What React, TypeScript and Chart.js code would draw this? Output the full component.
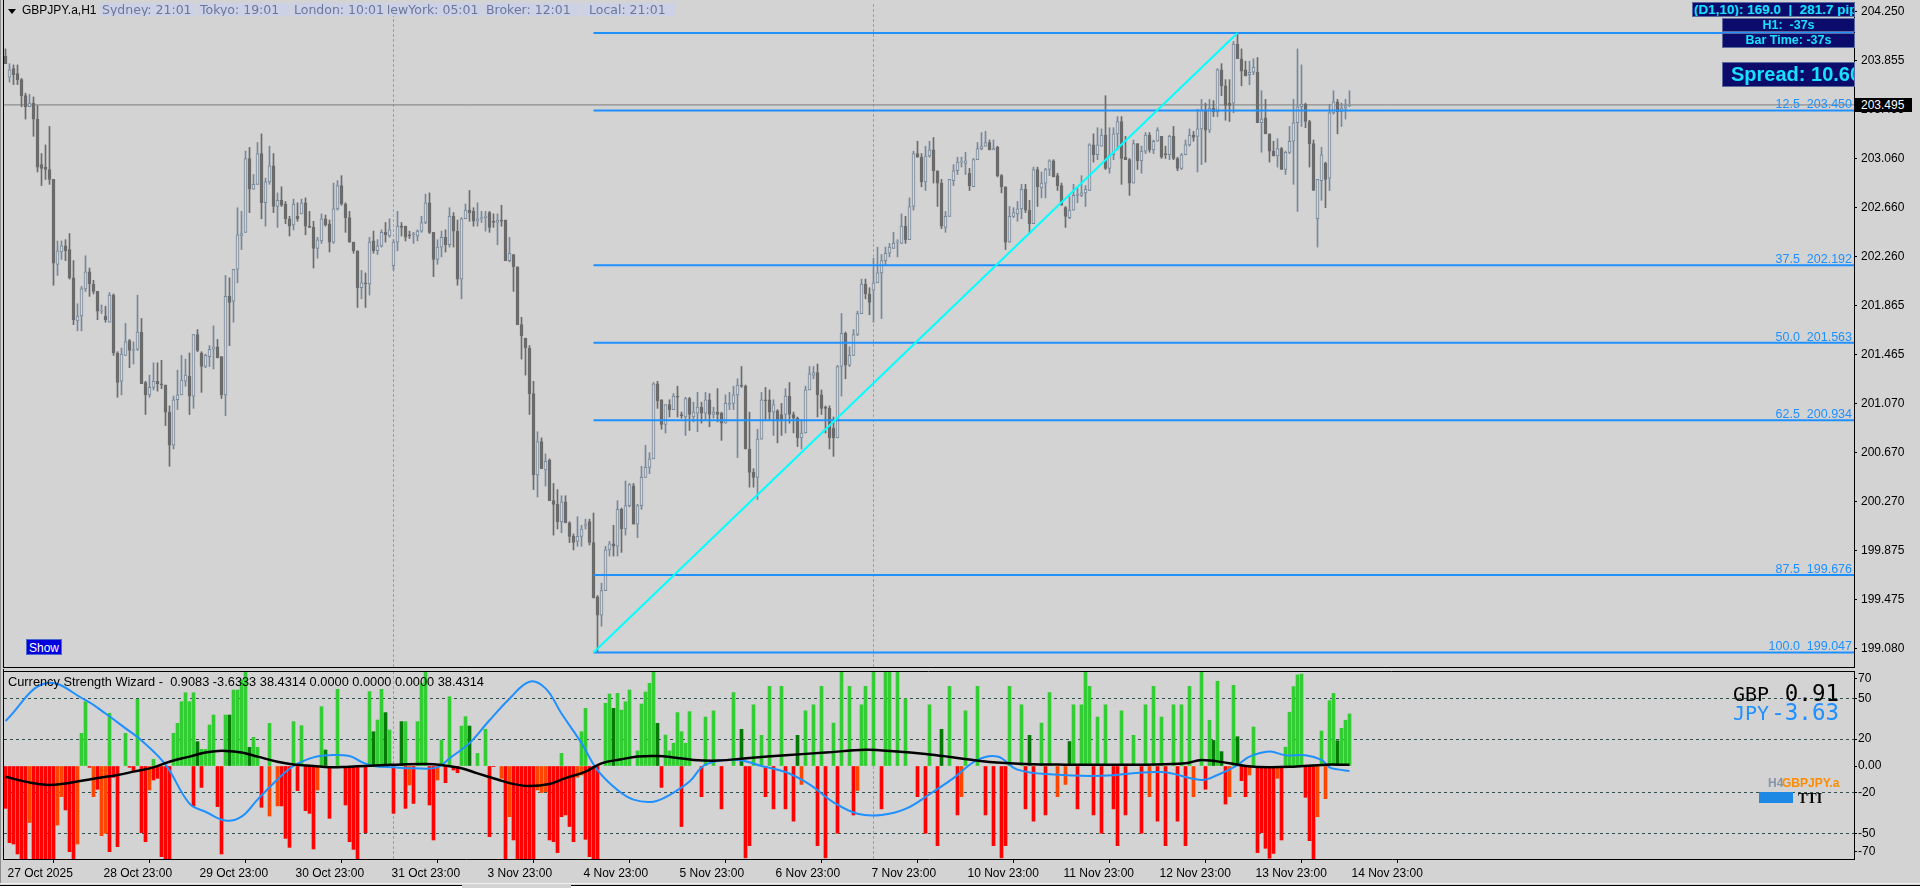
import React, { useEffect, useRef } from 'react';
import { Chart, registerables } from 'chart.js';

Chart.register(...registerables);

// ---------------- price data (H1 candles) ----------------
const opens = [
  203.89,203.72,203.79,203.75,203.70,203.57,203.48,203.51,203.38,203.01,
  202.99,202.97,202.89,202.20,202.30,202.35,202.32,202.09,201.74,201.78,
  202.00,202.14,202.04,201.98,201.82,201.78,201.73,201.95,201.48,201.25,
  201.46,201.58,201.50,201.51,201.65,201.24,201.14,201.20,201.25,201.23,
  201.22,201.00,200.73,201.10,201.14,201.25,201.29,201.13,201.63,201.48,
  201.37,201.45,201.51,201.53,201.45,201.14,201.94,201.90,202.16,202.43,
  202.46,203.06,202.81,202.85,203.10,202.70,202.87,203.00,202.67,202.72,
  202.69,202.57,202.52,202.59,202.61,202.70,202.51,202.50,202.33,202.39,
  202.57,202.53,202.38,202.65,202.84,202.69,202.58,202.38,202.31,202.01,
  202.05,202.04,202.39,202.31,202.35,202.46,202.43,202.19,202.38,202.51,
  202.51,202.44,202.44,202.43,202.47,202.54,202.70,202.46,202.24,202.34,
  202.42,202.36,202.59,202.47,202.08,202.57,202.64,202.63,202.55,202.57,
  202.58,202.62,202.55,202.54,202.56,202.56,202.23,202.28,202.18,201.71,
  201.60,201.52,201.15,200.49,200.76,200.53,200.61,200.28,200.25,200.11,
  200.27,200.10,199.99,199.95,199.99,200.08,200.11,199.94,199.50,199.35,
  199.55,199.88,199.93,199.91,200.21,200.05,200.24,200.40,200.09,200.24,
  200.47,200.55,200.62,201.23,201.10,200.90,201.06,201.02,201.13,200.98,
  200.96,201.11,200.96,200.99,201.04,200.99,201.10,200.98,201.00,200.99,
  200.91,201.06,201.07,201.14,201.22,201.21,200.70,200.51,200.47,200.78,
  201.10,201.10,201.00,201.01,200.98,200.98,201.13,200.98,200.95,200.79,
  200.83,201.18,201.30,201.32,201.14,201.04,201.03,200.87,200.79,201.37,
  201.64,201.38,201.46,201.63,201.80,202.04,201.96,201.99,202.05,202.13,
  202.23,202.29,202.33,202.38,202.37,202.51,202.40,202.67,203.10,203.07,
  202.87,203.08,203.13,202.96,202.86,202.50,202.59,202.88,202.96,203.03,
  203.02,202.94,202.83,203.05,203.14,203.16,203.19,203.13,203.15,202.92,
  202.83,202.38,202.59,202.61,202.65,202.81,202.64,202.53,202.97,202.82,
  202.86,202.97,203.04,202.92,202.84,202.66,202.58,202.64,202.76,202.76,
  202.78,202.80,203.17,203.09,203.16,203.25,202.98,203.09,203.26,203.36,
  203.07,203.05,202.86,203.18,203.04,203.12,203.25,203.13,203.20,203.24,
  203.10,203.09,203.24,203.06,202.98,203.09,203.17,203.25,203.24,203.30,
  203.45,203.29,203.47,203.44,203.78,203.65,203.51,203.51,203.99,203.87,
  203.78,203.74,203.76,203.76,203.35,203.39,203.26,203.12,203.08,203.14,
  202.97,203.11,203.20,203.35,203.48,203.50,203.36,203.18,202.57,202.88,
  203.02,202.90,203.43,203.52,203.44,203.47,203.49
];
const highs = [
  203.95,203.83,203.82,203.82,203.71,203.59,203.58,203.56,203.49,203.10,
  203.17,203.32,202.89,202.39,202.39,202.40,202.45,202.23,201.88,202.02,
  202.27,202.17,202.07,201.98,201.87,201.86,201.97,201.96,201.49,201.52,
  201.72,201.59,201.57,201.95,201.76,201.25,201.30,201.40,201.40,201.42,
  201.22,201.05,201.13,201.34,201.46,201.43,201.48,201.63,201.67,201.49,
  201.47,201.54,201.70,201.59,201.45,202.11,202.09,202.16,202.66,202.63,
  203.12,203.15,202.93,203.19,203.26,202.90,203.16,203.10,202.78,202.83,
  202.71,202.59,202.73,202.70,202.73,202.74,202.63,202.55,202.42,202.61,
  202.60,202.56,202.86,202.88,202.92,202.70,202.63,202.38,202.31,202.15,
  202.13,202.42,202.47,202.40,202.48,202.54,202.57,202.40,202.63,202.54,
  202.51,202.47,202.46,202.48,202.59,202.77,202.78,202.46,202.40,202.47,
  202.48,202.66,202.62,202.56,202.58,202.69,202.80,202.66,202.70,202.63,
  202.63,202.63,202.61,202.61,202.68,202.56,202.42,202.28,202.18,201.77,
  201.60,201.54,201.25,200.84,200.79,200.66,200.62,200.42,200.37,200.32,
  200.32,200.11,200.01,200.15,200.08,200.13,200.13,200.18,199.51,199.61,
  199.91,199.95,200.08,200.28,200.22,200.44,200.42,200.42,200.25,200.56,
  200.73,200.67,201.24,201.25,201.10,201.06,201.10,201.15,201.21,201.00,
  201.12,201.12,201.08,201.16,201.08,201.16,201.15,201.04,201.19,201.00,
  201.14,201.16,201.21,201.27,201.37,201.22,201.00,200.54,200.86,201.16,
  201.20,201.18,201.10,201.02,201.07,201.19,201.24,201.00,200.96,200.94,
  201.21,201.37,201.37,201.39,201.18,201.05,201.05,200.96,201.38,201.80,
  201.65,201.53,201.67,201.82,202.08,202.08,202.01,202.25,202.34,202.28,
  202.34,202.37,202.46,202.40,202.61,202.59,202.74,203.12,203.20,203.10,
  203.16,203.20,203.23,202.96,202.89,202.63,202.89,203.01,203.07,203.07,
  203.11,202.98,203.06,203.19,203.27,203.28,203.21,203.21,203.16,202.93,
  202.83,202.67,202.66,202.71,202.85,202.85,202.72,202.99,202.99,202.95,
  202.98,203.05,203.05,202.94,202.86,202.67,202.75,202.85,202.82,202.92,
  202.84,203.18,203.26,203.31,203.30,203.57,203.31,203.31,203.40,203.40,
  203.24,203.06,203.21,203.18,203.16,203.27,203.27,203.21,203.31,203.24,
  203.16,203.25,203.32,203.07,203.10,203.21,203.30,203.28,203.46,203.54,
  203.51,203.54,203.53,203.79,203.83,203.70,203.70,204.01,204.079,203.95,
  203.85,203.85,203.87,203.88,203.61,203.54,203.26,203.20,203.22,203.15,
  203.12,203.32,203.54,203.95,203.82,203.51,203.37,203.21,202.89,203.15,
  203.03,203.50,203.61,203.54,203.51,203.54,203.61
];
const lows = [
  203.83,203.68,203.66,203.66,203.48,203.38,203.48,203.24,202.95,202.84,
  202.89,202.85,202.03,202.11,202.24,202.23,202.08,201.71,201.66,201.66,
  201.98,201.94,201.96,201.75,201.80,201.73,201.73,201.46,201.12,201.14,
  201.46,201.36,201.39,201.50,201.23,200.98,201.12,201.18,201.17,201.19,
  200.89,200.56,200.70,201.02,201.14,201.21,200.98,201.03,201.49,201.16,
  201.36,201.37,201.35,201.44,201.11,200.97,201.54,201.73,202.05,202.32,
  202.46,202.62,202.81,202.85,202.57,202.51,202.85,202.62,202.50,202.67,
  202.53,202.43,202.48,202.55,202.61,202.44,202.50,202.17,202.25,202.37,
  202.51,202.30,202.37,202.64,202.68,202.46,202.38,202.29,201.85,201.92,
  201.85,201.95,202.29,202.28,202.34,202.38,202.42,202.15,202.31,202.43,
  202.39,202.41,202.37,202.39,202.46,202.53,202.45,202.10,202.20,202.26,
  202.30,202.34,202.34,202.03,201.92,202.57,202.55,202.51,202.51,202.54,
  202.47,202.46,202.50,202.36,202.51,202.23,202.22,201.98,201.71,201.43,
  201.30,200.98,200.37,200.31,200.54,200.40,200.28,200.00,200.05,200.02,
  200.10,199.94,199.88,199.91,199.91,200.05,199.92,199.49,199.047,199.26,
  199.55,199.83,199.83,199.83,199.86,200.00,200.23,200.09,199.98,200.21,
  200.47,200.50,200.62,201.03,200.86,200.83,200.96,201.02,200.96,200.95,
  200.81,200.85,200.92,200.84,200.91,200.93,200.88,200.95,200.92,200.77,
  200.91,201.02,201.02,200.63,201.20,200.70,200.39,200.39,200.29,200.78,
  200.94,200.94,200.81,200.75,200.81,200.83,200.91,200.83,200.72,200.70,
  200.83,201.18,201.27,200.96,200.98,200.83,200.70,200.64,200.79,201.13,
  201.27,201.37,201.46,201.62,201.80,201.92,201.79,201.73,202.05,201.76,
  202.19,202.26,202.33,202.26,202.37,202.37,202.40,202.64,203.07,202.83,
  202.80,203.07,202.86,202.67,202.49,202.46,202.59,202.84,202.93,202.99,
  202.93,202.80,202.83,203.05,203.13,203.16,203.13,203.13,202.91,202.78,
  202.32,202.38,202.58,202.55,202.57,202.62,202.45,202.53,202.67,202.74,
  202.74,202.92,202.91,202.80,202.68,202.50,202.57,202.64,202.70,202.75,
  202.67,202.80,203.03,203.05,203.16,202.97,202.94,203.05,203.13,202.85,
  203.05,202.76,202.86,202.97,202.94,203.10,203.11,203.10,203.20,203.06,
  203.06,203.05,203.05,202.96,202.97,203.09,203.16,203.20,202.95,203.01,
  203.03,203.27,203.40,203.40,203.57,203.37,203.36,203.43,203.87,203.65,
  203.73,203.66,203.74,203.35,203.11,203.26,203.03,203.08,202.99,202.97,
  202.93,203.10,202.85,202.63,203.32,203.31,202.99,202.80,202.34,202.72,
  202.66,202.80,203.42,203.26,203.32,203.38,203.48
];
const closes = [
  203.83,203.78,203.74,203.70,203.57,203.48,203.51,203.38,202.99,202.98,
  202.97,202.89,202.21,202.31,202.35,202.31,202.09,201.75,201.78,202.00,
  202.14,202.04,201.98,201.82,201.82,201.75,201.95,201.48,201.24,201.47,
  201.57,201.50,201.50,201.65,201.23,201.14,201.20,201.25,201.23,201.22,
  201.00,200.73,201.10,201.14,201.26,201.30,201.13,201.63,201.50,201.37,
  201.46,201.51,201.53,201.44,201.14,201.94,201.89,202.16,202.44,202.45,
  203.06,202.81,202.85,203.10,202.70,202.87,203.00,202.67,202.72,202.68,
  202.57,202.51,202.69,202.57,202.70,202.51,202.50,202.33,202.40,202.57,
  202.52,202.38,202.65,202.84,202.69,202.58,202.38,202.31,202.01,202.05,
  202.04,202.38,202.31,202.35,202.46,202.44,202.48,202.38,202.51,202.50,
  202.42,202.43,202.44,202.47,202.54,202.70,202.46,202.24,202.34,202.42,
  202.36,202.59,202.47,202.08,202.57,202.64,202.62,202.55,202.57,202.58,
  202.59,202.50,202.54,202.56,202.55,202.23,202.29,202.18,201.71,201.62,
  201.52,201.15,200.49,200.76,200.54,200.60,200.28,200.25,200.11,200.27,
  200.10,199.99,199.94,199.99,200.05,200.08,199.94,199.49,199.35,199.55,
  199.88,199.93,199.91,200.21,200.05,200.24,200.41,200.09,200.24,200.47,
  200.55,200.62,201.23,201.09,200.90,201.06,201.02,201.13,201.12,200.97,
  201.11,200.98,201.00,201.04,200.99,201.10,200.98,201.00,200.98,200.91,
  201.07,201.07,201.14,201.22,201.21,200.70,200.51,200.47,200.78,201.10,
  201.09,201.00,201.06,200.93,200.93,201.13,200.98,200.95,200.79,200.83,
  201.18,201.31,201.32,201.14,201.03,201.03,200.79,200.79,201.37,201.64,
  201.38,201.46,201.63,201.80,202.04,201.96,201.89,202.05,202.13,202.23,
  202.29,202.34,202.37,202.38,202.51,202.40,202.67,203.10,203.07,202.87,
  203.08,203.13,202.96,202.86,202.51,202.59,202.89,202.96,203.03,203.03,
  203.04,202.84,203.05,203.14,203.16,203.19,203.13,203.14,202.92,202.83,
  202.38,202.59,202.62,202.65,202.81,202.64,202.53,202.97,202.83,202.86,
  202.97,203.04,202.91,202.84,202.68,202.59,202.64,202.76,202.77,202.78,
  202.81,203.17,203.09,203.17,203.25,202.98,203.09,203.26,203.36,203.06,
  203.05,202.86,203.18,203.04,203.12,203.25,203.13,203.20,203.29,203.07,
  203.09,203.24,203.06,202.98,203.09,203.17,203.25,203.23,203.30,203.45,
  203.29,203.47,203.44,203.78,203.65,203.49,203.49,203.99,203.87,203.77,
  203.73,203.76,203.80,203.35,203.38,203.26,203.12,203.08,203.14,202.97,
  203.11,203.20,203.35,203.48,203.50,203.36,203.18,202.80,202.89,203.09,
  202.89,203.43,203.52,203.44,203.47,203.49,203.495
];

const timeTickBars = [0, 24, 48, 72, 96, 120, 144, 168, 192, 216, 240, 264, 288, 312, 336];
const timeTickLabels = [
  '27 Oct 2025', '28 Oct 23:00', '29 Oct 23:00', '30 Oct 23:00', '31 Oct 23:00',
  '3 Nov 23:00', '4 Nov 23:00', '5 Nov 23:00', '6 Nov 23:00', '7 Nov 23:00',
  '10 Nov 23:00', '11 Nov 23:00', '12 Nov 23:00', '13 Nov 23:00', '14 Nov 23:00'
];
const priceTicks = [199.08, 199.475, 199.875, 200.27, 200.67, 201.07, 201.465, 201.865, 202.26, 202.66, 203.06, 203.455, 203.855, 204.25];
const fibLevels = [0, 12.5, 37.5, 50, 62.5, 87.5, 100];
const fibPrices = [204.079, 203.45, 202.192, 201.563, 200.934, 199.676, 199.047];
const fibAnchorBars = [147, 308];
const bidPrice = 203.495;
const weekSeparatorBars = [97, 217];

// ---------------- Currency Strength Wizard sub-window ----------------
const strengthTickValues = [-70, -50, -20, 0, 20, 50, 70];
const strengthGridValues = [-50, -20, 20, 50];
const strengthUpBars = [
  19,20,26,30,33,37,42,43,44,45,46,47,48,49,50,51,52,55,56,57,58,59,60,61,62,63,66,72,74,79,80,83,
  91,92,93,94,95,96,99,100,103,104,105,109,111,114,115,116,118,120,139,144,145,150,151,152,153,154,155,156,
  158,159,160,161,162,163,165,166,167,168,169,170,171,175,177,182,184,187,189,191,194,198,200,202,204,207,
  209,211,214,215,217,220,221,223,225,231,234,236,240,243,251,254,256,259,261,266,267,269,270,271,273,275,
  279,282,285,287,289,292,294,296,299,301,302,303,304,307,308,312,320,321,322,323,324,329,331,332,333,334,335,336
];
const strengthUpValues = [
  24.3,47.8,39.2,24.3,49.6,5,24.3,31.7,47.8,54.5,47.8,54.5,18.1,12.4,12.4,30.5,37.9,37.9,37.9,56.5,56.5,64,70,13.9,21.3,13.9,31.7,33,30,44.1,11.9,57,
  55.3,25.5,34.2,57,39.7,26.8,33,33,33,61.5,70,19.3,51.5,29.7,36.7,29.7,9.4,27.3,9.4,25.5,42.9,46.6,53.5,42.9,54,41.6,47.8,56.5,
  11.2,46.1,55,61.5,70,31.7,23,11.2,16.9,39.7,25.5,16.9,40.4,36.4,41,54.6,27.3,45.5,22.8,59.2,59.2,22.8,41,45.5,59.2,31.9,
  70,59.2,45.5,59.2,70,70,70,70,50,45.5,27.3,59.2,41,59.2,59.2,45.5,22.8,31.9,54.6,18.2,45.5,45.5,70,59.2,36.4,45.5,
  41,22.8,45.5,59.2,36.4,45.5,45.5,59.2,70,34,19,63,10.7,60,21.8,29,14,40,59,67.7,68.4,26,48.6,54,18.8,28,34,38.7
];
const strengthUpDarkBars = [48, 56, 61, 80, 92, 95, 99, 116, 152, 163, 184, 198, 234, 256, 266, 302, 304, 308, 333];
const strengthDownBars = [
  0,1,2,3,4,5,6,7,8,9,10,11,12,13,14,15,16,17,18,21,22,23,24,25,26,27,28,31,32,34,35,36,37,38,39,40,41,
  47,49,53,54,64,66,68,69,70,71,73,75,76,77,78,81,85,86,87,88,90,97,100,101,102,106,107,108,110,112,113,
  121,122,124,125,126,127,128,129,130,131,132,133,134,135,136,137,138,139,140,141,142,143,144,145,146,147,148,
  164,169,174,179,185,186,190,192,195,197,199,203,205,208,212,213,219,228,230,233,238,239,
  245,247,249,250,255,257,260,263,265,268,272,274,277,278,280,284,286,288,290,293,295,297,
  300,305,306,309,310,311,313,314,315,316,317,318,319,325,326,327,328,330
];
const strengthDownValues = [
  -31.5,-57,-58,-65.4,-69.4,-69.4,-42,-69.4,-69.4,-69.4,-69.4,-69.4,-69.4,-43.9,-22.8,-32.7,-63.7,-69.4,-58,
  -1,-22.8,-17.3,-51.8,-50,-63.7,-8.4,-60,-1,-3.5,-49.6,-56.3,-17.8,-10.4,-9.2,-67.4,-69.4,-69.4,
  -29.7,-15.9,-30.2,-65.4,-30.7,-37.2,-29.7,-29.7,-53.8,-60.5,-18.3,-33.2,-35.2,-61.7,-17.8,-38.9,-29,-56.3,-62,-69.4,-49.6,
  -35.2,-31.5,-14.1,-27.8,-29,-55,-10.4,-12.4,-3,-5,
  -52.5,-0.5,-9.2,-69.4,-37.7,-55,-69.4,-69.4,-69.4,-69.4,-69.4,-17.8,-19.8,-19.1,-55,-56.3,-64.4,-37.7,-36.4,-45,-56.3,-8.4,-6.7,-54.5,-67.4,-69.4,-69.4,
  -15.9,-45,-22.8,-31.9,-68.3,-59.2,-22.8,-31.9,-31.9,-41,-13.7,-59.2,-68.3,-50,-36.4,-18.2,-31.9,-22.8,-50,-59.2,-36.4,-22.8,
  -36.4,-59.2,-68.3,-59.2,-31.9,-41,-36.4,-22.8,-13.7,-31.9,-36.4,-50,-31.9,-59.2,-36.4,-50,-22.8,-41,-59.2,-41,-59.2,-22.8,
  -17.3,-28.3,-22.8,-10.9,-22.8,-6.7,-64.4,-49.6,-61.2,-68.6,-65,-9.2,-55,-23.3,-55.5,-69.4,-37.7,-24.3
];
const strengthDownOrangeBars = [6, 13, 14, 18, 22, 24, 25, 36, 66, 68, 78, 101, 108, 124, 126, 133, 134, 135, 143, 144, 199, 213, 239, 263, 265, 286, 297, 306, 311, 318, 328, 330];
const gbpBars = [0, 5, 10, 14, 19, 23, 28, 32, 37, 41, 46, 50, 54, 59, 63, 68, 72, 77, 81, 86, 90, 95, 99, 105, 109, 114, 118, 123, 127, 131, 136, 140, 145, 149, 154, 158, 163, 167, 172, 178, 186, 195, 205, 215, 222, 230, 238, 246, 255, 265, 275, 285, 295, 299, 306, 310, 316, 322, 330, 336];
const gbpValues = [-8, -11.6, -14, -13.4, -11, -9, -6.7, -4.2, -1, 3.2, 7, 10, 11.4, 10, 7, 3.2, 1.2, 0, -1, -0.5, 0, 0.7, 1.2, 1.5, 0.7, -1.7, -5.5, -10, -13.4, -14.9, -13.4, -9, -4.2, 2, 5, 7, 7.4, 6.4, 4.5, 4, 6, 8, 10, 12, 11, 9, 6, 3, 1.5, 1, 1, 1, 2, 4.5, 2, 0, -1, -0.5, 1, 0.91];
const jpyBars = [0, 10, 20, 25, 30, 34, 40, 46, 50, 55, 59, 63, 68, 72, 77, 81, 86, 89, 92, 97, 102, 108, 111, 116, 121, 126, 131, 135, 139, 144, 148, 153, 157, 162, 166, 171, 175, 183, 189, 195, 201, 207, 213, 219, 225, 231, 237, 243, 248, 253, 262, 274, 289, 299, 303, 308, 311, 316, 320, 325, 329, 331, 333, 336];
const jpyValues = [33.5, 61.5, 49, 39, 28, 19, 1, -28, -34, -40.6, -37.7, -25, -10, 0, 6.4, 8, 7.4, 3, 0, -1, -1.7, -1, 5.7, 17, 34, 50, 62.7, 57.7, 39, 17, -3, -17.8, -25, -26.5, -21.6, -11.6, 1, 4.5, 0, -4.5, -13.7, -27, -35.5, -36.4, -31.9, -21, -9, 4.5, 7, -2.7, -6.4, -7.3, -4.5, -10.4, -6.7, 0.7, 7, 10.7, 8, 8, 4.5, -1, -2.5, -3.63];

// ---------------- layout constants ----------------
const X_MIN = -0.375;
const X_MAX = 462.125;
const PRICE_MIN = 198.929;
const PRICE_MAX = 204.331;
const IND_MIN = -69.14;
const IND_MAX = 70.63;
const BG = '#d3d3d3';
const BULL = '#778899';
const BEAR = '#6b6b6b';
const FIB = '#1e90ff';

const framePlugin = {
  id: 'mtFrame',
  afterDraw(chart: any, _args: any, opts: any) {
    const { ctx, chartArea: a } = chart;
    ctx.save();
    ctx.strokeStyle = '#000';
    ctx.lineWidth = 1;
    ctx.beginPath();
    if (opts.left) {
      ctx.moveTo(a.left - 0.5, 0);
      ctx.lineTo(a.left - 0.5, a.bottom + 1);
    }
    if (opts.top) {
      ctx.moveTo(a.left - 1, a.top + 0.5);
      ctx.lineTo(a.right, a.top + 0.5);
    }
    if (opts.bottom) {
      ctx.moveTo(a.left - 1, a.bottom + 0.5);
      ctx.lineTo(a.right + 1, a.bottom + 0.5);
    }
    ctx.stroke();
    ctx.restore();
  },
};

const fibLabelPlugin = {
  id: 'fibLabels',
  afterDatasetsDraw(chart: any) {
    const { ctx, chartArea: a, scales } = chart;
    ctx.save();
    ctx.font = '12.5px "Liberation Sans"';
    ctx.fillStyle = FIB;
    ctx.textAlign = 'right';
    ctx.textBaseline = 'alphabetic';
    fibLevels.forEach((lvl, k) => {
      const y = scales.y.getPixelForValue(fibPrices[k]);
      ctx.fillText(`${lvl.toFixed(1)}  ${fibPrices[k].toFixed(3)}`, a.right - 2, y - 2);
    });
    ctx.restore();
  },
};

const noPadY = (s: any) => {
  s.width = 66;
  s.paddingTop = 0;
  s.paddingBottom = 0;
};

function mainConfig(): any {
  const idx = opens.map((_, i) => i);
  const bull = idx.map((i) => closes[i] >= opens[i]);
  const fibSets = fibPrices.map((p) => ({
    type: 'line',
    data: [{ x: fibAnchorBars[0], y: p }, { x: X_MAX, y: p }],
    borderColor: FIB,
    borderWidth: 2,
    pointRadius: 0,
    order: 1,
  }));
  const sepSets = weekSeparatorBars.map((b) => ({
    type: 'line',
    data: [{ x: b, y: PRICE_MIN }, { x: b, y: PRICE_MAX }],
    borderColor: '#a0a0a0',
    borderWidth: 1,
    borderDash: [3, 2],
    pointRadius: 0,
    order: 6,
  }));
  return {
    type: 'bar',
    data: {
      datasets: [
        {
          type: 'line',
          data: [{ x: fibAnchorBars[0], y: fibPrices[6] }, { x: fibAnchorBars[1], y: fibPrices[0] }],
          borderColor: '#00ffff',
          borderWidth: 2,
          pointRadius: 0,
          order: 0,
        },
        ...fibSets,
        {
          type: 'bar',
          data: idx.map((i) => ({ x: i, y: [Math.min(opens[i], closes[i]), Math.max(opens[i], closes[i])] })),
          backgroundColor: idx.map((i) => (bull[i] ? BG : BEAR)),
          borderColor: idx.map((i) => (bull[i] ? BULL : BEAR)),
          borderWidth: 1,
          borderSkipped: false,
          barThickness: 3,
          minBarLength: 1,
          grouped: false,
          order: 2,
        },
        {
          type: 'bar',
          data: idx.map((i) => ({ x: i, y: [lows[i], highs[i]] })),
          backgroundColor: idx.map((i) => (bull[i] ? BULL : BEAR)),
          barThickness: 1,
          grouped: false,
          order: 3,
        },
        {
          type: 'line',
          data: [{ x: X_MIN, y: bidPrice }, { x: X_MAX, y: bidPrice }],
          borderColor: '#7c7c7c',
          borderWidth: 1,
          pointRadius: 0,
          order: 4,
        },
        ...sepSets,
      ],
    },
    options: {
      animation: false,
      responsive: false,
      devicePixelRatio: 1,
      events: [],
      layout: { padding: { left: 4, top: 2, right: 0, bottom: 1 } },
      plugins: { legend: { display: false }, tooltip: { enabled: false }, mtFrame: { left: true, bottom: true } },
      scales: {
        x: { type: 'linear', min: X_MIN, max: X_MAX, offset: false, display: false },
        y: {
          type: 'linear',
          position: 'right',
          min: PRICE_MIN,
          max: PRICE_MAX,
          afterBuildTicks: (s: any) => {
            s.ticks = priceTicks.map((v) => ({ value: v }));
          },
          afterFit: noPadY,
          ticks: {
            autoSkip: false,
            color: '#000',
            padding: 4,
            font: { family: 'Liberation Sans', size: 12 },
            callback: (v: any) => Number(v).toFixed(3),
          },
          grid: { drawOnChartArea: false, drawTicks: true, tickLength: 3, tickColor: '#000' },
          border: { display: true, color: '#000' },
        },
      },
    },
    plugins: [framePlugin, fibLabelPlugin],
  };
}

function indConfig(): any {
  const upData = strengthUpBars.map((b, k) => ({ x: b, y: strengthUpValues[k] }));
  const upColors = strengthUpBars.map((b) => (strengthUpDarkBars.includes(b) ? '#067a06' : '#32cd32'));
  const dnData = strengthDownBars.map((b, k) => ({ x: b, y: strengthDownValues[k] }));
  const dnColors = strengthDownBars.map((b) => (strengthDownOrangeBars.includes(b) ? '#ff4500' : '#ff0000'));
  const sepSets = weekSeparatorBars.map((b) => ({
    type: 'line',
    data: [{ x: b, y: IND_MIN }, { x: b, y: IND_MAX }],
    borderColor: '#a0a0a0',
    borderWidth: 1,
    borderDash: [3, 2],
    pointRadius: 0,
    order: 6,
  }));
  return {
    type: 'bar',
    data: {
      datasets: [
        {
          type: 'line',
          data: gbpBars.map((b, k) => ({ x: b, y: gbpValues[k] })),
          borderColor: '#000',
          borderWidth: 2.5,
          tension: 0.4,
          pointRadius: 0,
          order: 0,
        },
        {
          type: 'line',
          data: jpyBars.map((b, k) => ({ x: b, y: jpyValues[k] })),
          borderColor: '#1e90ff',
          borderWidth: 2,
          tension: 0.4,
          pointRadius: 0,
          order: 1,
        },
        { type: 'bar', data: upData, backgroundColor: upColors, barThickness: 3, grouped: false, order: 3 },
        { type: 'bar', data: dnData, backgroundColor: dnColors, barThickness: 3, grouped: false, order: 3 },
        ...sepSets,
      ],
    },
    options: {
      animation: false,
      responsive: false,
      devicePixelRatio: 1,
      events: [],
      layout: { padding: { left: 4, top: 2, right: 0, bottom: 0 } },
      plugins: { legend: { display: false }, tooltip: { enabled: false }, mtFrame: { left: true, top: true } },
      scales: {
        x: {
          type: 'linear',
          min: X_MIN,
          max: X_MAX,
          offset: false,
          afterBuildTicks: (s: any) => {
            s.ticks = timeTickBars.map((v) => ({ value: v }));
          },
          afterFit: (s: any) => {
            s.height = 29;
            s.paddingLeft = 0;
            s.paddingRight = 0;
          },
          ticks: {
            autoSkip: false,
            maxRotation: 0,
            align: 'start',
            labelOffset: 2,
            padding: 3,
            color: '#000',
            font: { family: 'Liberation Sans', size: 12 },
            callback: (v: any) => {
              const k = timeTickBars.indexOf(Number(v));
              return k >= 0 ? timeTickLabels[k] : '';
            },
          },
          grid: { drawOnChartArea: false, drawTicks: true, tickLength: 4, tickColor: '#000' },
          border: { display: true, color: '#000' },
        },
        y: {
          type: 'linear',
          position: 'right',
          min: IND_MIN,
          max: IND_MAX,
          afterBuildTicks: (s: any) => {
            // edge labels are pulled inside the window like the terminal does
            s.ticks = strengthTickValues.map((v) => ({ value: v === 70 ? 64.7 : v === -70 ? -63.9 : v }));
          },
          afterFit: noPadY,
          ticks: {
            autoSkip: false,
            color: '#000',
            padding: 1,
            font: { family: 'Liberation Sans', size: 12 },
            callback: (v: any) => {
              const n = Number(v);
              if (n > 60) return '70';
              if (n < -60) return '-70';
              if (n === 0) return '0.00';
              return String(n);
            },
          },
          grid: {
            drawOnChartArea: true,
            drawTicks: true,
            tickLength: 3,
            tickColor: '#000',
            color: (c: any) => (c.tick && strengthGridValues.includes(c.tick.value) ? '#2f4f4f' : 'rgba(0,0,0,0)'),
          },
          border: { display: true, color: '#000', dash: [3, 3] },
        },
      },
    },
    plugins: [framePlugin],
  };
}

const abs = (o: any): any => ({ position: 'absolute', ...o });

const sessionBoxes = [
  { left: 100, w: 95, text: 'Sydney: 21:01', indent: 2 },
  { left: 197, w: 93, text: 'Tokyo: 19:01', indent: 3 },
  { left: 292, w: 94, text: 'London: 10:01', indent: 2 },
  { left: 388, w: 94, text: 'NewYork: 05:01', indent: -7 },
  { left: 484, w: 95, text: 'Broker: 12:01', indent: 2 },
  { left: 581, w: 94, text: 'Local: 21:01', indent: 8 },
];

export default function App() {
  const mainRef = useRef<HTMLCanvasElement>(null);
  const indRef = useRef<HTMLCanvasElement>(null);

  useEffect(() => {
    document.body.style.margin = '0';
    document.body.style.background = BG;
    const c1 = new Chart(mainRef.current as HTMLCanvasElement, mainConfig());
    const c2 = new Chart(indRef.current as HTMLCanvasElement, indConfig());
    return () => {
      c1.destroy();
      c2.destroy();
    };
  }, []);

  const navyBox = { background: '#0b0b6b', border: '1px solid #5a6a9c', boxSizing: 'border-box', color: '#19e0ff', overflow: 'hidden', whiteSpace: 'pre', fontFamily: 'Liberation Sans', fontWeight: 'bold' };

  return (
    <div style={{ position: 'fixed', left: 0, top: 0, width: 1920, height: 888, overflow: 'hidden', background: BG, fontFamily: 'Liberation Sans' }}>
      <canvas ref={mainRef} width={1920} height={668} style={abs({ left: 0, top: 0 })} />
      <canvas ref={indRef} width={1920} height={219} style={abs({ left: 0, top: 669 })} />
      <div style={abs({ left: 0, top: 0, width: 1, height: 884, background: '#8a8a8a' })} />

      {/* header */}
      <div style={abs({ left: 8, top: 9, width: 0, height: 0, borderLeft: '4px solid transparent', borderRight: '4px solid transparent', borderTop: '5px solid #000' })} />
      <div style={abs({ left: 22, top: 3, fontSize: 12, lineHeight: '15px', color: '#000', whiteSpace: 'pre' })}>GBPJPY.a,H1</div>
      {sessionBoxes.map((b) => (
        <div key={b.text} style={abs({ left: b.left, top: 3, width: b.w, height: 13, background: '#cdd1e6', overflow: 'hidden' })}>
          <div style={{ marginLeft: b.indent, fontFamily: 'DejaVu Sans', fontSize: 12.5, lineHeight: '13px', color: '#69779a', whiteSpace: 'pre' }}>{b.text}</div>
        </div>
      ))}

      {/* info boxes, top right */}
      <div style={abs({ ...navyBox, left: 1692, top: 2, width: 163, height: 15, fontSize: 13.5, lineHeight: '13px', paddingLeft: 1 })}>(D1,10): 169.0  |  281.7 pips</div>
      <div style={abs({ ...navyBox, left: 1722, top: 18, width: 133, height: 14, fontSize: 12.5, lineHeight: '12px', textAlign: 'center' })}>H1:  -37s</div>
      <div style={abs({ ...navyBox, left: 1722, top: 33, width: 133, height: 15, fontSize: 12.5, lineHeight: '13px', textAlign: 'center' })}>Bar Time: -37s</div>
      <div style={abs({ ...navyBox, left: 1722, top: 62, width: 133, height: 25, fontSize: 20, lineHeight: '23px', paddingLeft: 8 })}>Spread: 10.60</div>

      {/* bid price tag */}
      <div style={abs({ left: 1855, top: 98, width: 57, height: 14, background: '#000', color: '#fff', fontSize: 12, lineHeight: '14px', paddingLeft: 6, boxSizing: 'border-box' })}>203.495</div>

      {/* show button */}
      <div style={abs({ left: 26, top: 639, width: 36, height: 16, background: '#0000dd', color: '#fff', fontSize: 12, lineHeight: '16px', textAlign: 'center', boxSizing: 'border-box', border: '1px solid #4a6ad0' })}>Show</div>

      {/* indicator texts */}
      <div style={abs({ left: 8, top: 674, fontSize: 12.8, lineHeight: '15px', color: '#000', whiteSpace: 'pre' })}>Currency Strength Wizard -  0.9083 -3.6333 38.4314 0.0000 0.0000 0.0000 38.4314</div>
      <div style={abs({ left: 1733, top: 684, fontFamily: 'DejaVu Sans Mono', fontSize: 20, lineHeight: '20px', color: '#000' })}>GBP</div>
      <div style={abs({ right: 1920 - 1839, top: 681, fontFamily: 'DejaVu Sans Mono', fontSize: 22.5, lineHeight: '24px', color: '#000', textAlign: 'right' })}>0.91</div>
      <div style={abs({ left: 1733, top: 703, fontFamily: 'DejaVu Sans Mono', fontSize: 20, lineHeight: '20px', color: '#1e90ff' })}>JPY</div>
      <div style={abs({ right: 1920 - 1839, top: 700, fontFamily: 'DejaVu Sans Mono', fontSize: 22.5, lineHeight: '24px', color: '#1e90ff', textAlign: 'right' })}>-3.63</div>
      <div style={abs({ left: 1768, top: 776, fontSize: 12, fontWeight: 'bold', lineHeight: '14px', color: '#8a94a8' })}>H4</div>
      <div style={abs({ left: 1782, top: 776, fontSize: 12, fontWeight: 'bold', lineHeight: '14px', color: '#ff8c00' })}>GBPJPY.a</div>
      <div style={abs({ left: 1759, top: 792, width: 34, height: 11, background: '#1e88e5' })} />
      <div style={abs({ left: 1798, top: 792, fontFamily: 'Liberation Serif', fontSize: 14, fontWeight: 'bold', lineHeight: '14px', color: '#000' })}>TTI</div>

      {/* window bottom */}
      <div style={abs({ left: 0, top: 883, width: 1920, height: 1, background: '#f0f0f0' })} />
      <div style={abs({ left: 0, top: 885, width: 462, height: 3, background: '#fff', borderTop: '1px solid #000' })} />
      <div style={abs({ left: 571, top: 885, width: 1349, height: 3, background: '#fff', borderTop: '1px solid #000' })} />
    </div>
  );
}
